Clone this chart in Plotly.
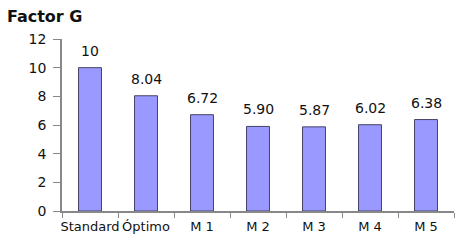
import plotly.graph_objects as go

categories = ["Standard", "Óptimo", "M 1", "M 2", "M 3", "M 4", "M 5"]
values = [10, 8.04, 6.72, 5.90, 5.87, 6.02, 6.38]
labels = ["10", "8.04", "6.72", "5.90", "5.87", "6.02", "6.38"]

FONT = "DejaVu Sans, Arial, sans-serif"

fig = go.Figure()
fig.add_trace(go.Bar(
    x=categories, y=values,
    marker=dict(color="#9999FF", line=dict(color="#444466", width=1)),
    width=0.41,
))
for c, v, t in zip(categories, values, labels):
    fig.add_annotation(x=c, y=v, text=t, showarrow=False, yanchor="bottom",
                       yshift=7, font=dict(family=FONT, size=14, color="#111111"))

fig.update_layout(
    width=462, height=244,
    margin=dict(l=62, r=8, t=39, b=33, autoexpand=False),
    paper_bgcolor="white", plot_bgcolor="white",
    font=dict(family=FONT, size=14, color="#111111"),
    showlegend=False,
    title=dict(text="<b>Factor G</b>", x=0.015, xanchor="left", y=0.932, yanchor="middle",
               font=dict(family=FONT, size=16, color="#111111")),
)
fig.update_xaxes(showline=True, linecolor="#888888", linewidth=1.5,
                 ticks="outside", tickson="boundaries", ticklen=5, tickcolor="#888888",
                 tickangle=0, automargin=False, ticklabelstandoff=3,
                 tickfont=dict(family=FONT, size=13), showgrid=False)
fig.update_yaxes(range=[0, 12], dtick=2, showline=True, linecolor="#888888", linewidth=1.5,
                 ticks="outside", ticklen=7, tickcolor="#888888", showgrid=False,
                 zeroline=False, automargin=False, ticklabelstandoff=4,
                 tickfont=dict(family=FONT, size=14))
fig.write_html("out.html")
